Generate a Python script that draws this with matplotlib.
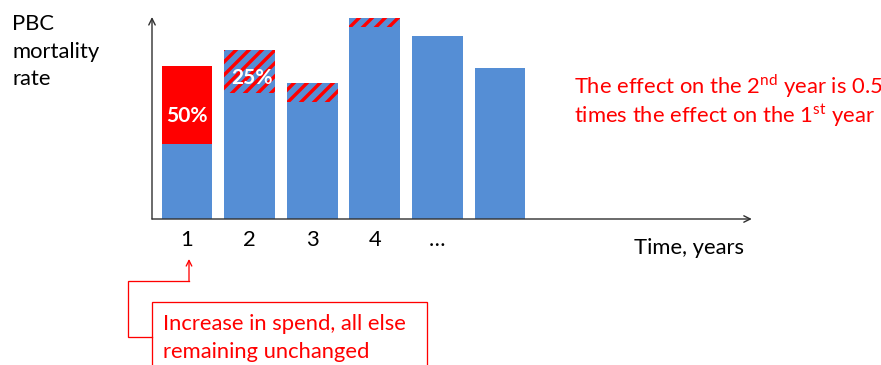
import matplotlib
matplotlib.use("Agg")
import matplotlib.pyplot as plt
from matplotlib.patches import Rectangle

DPI = 78
PT = 72 / DPI  # pixels -> points

plt.rcParams['font.family'] = ['Lato', 'DejaVu Sans']
plt.rcParams['mathtext.fontset'] = 'custom'
plt.rcParams['mathtext.rm'] = 'Lato'
plt.rcParams['hatch.linewidth'] = 3.4 * PT

# Mortality rate per year (arbitrary units) and the spend effect stacked on top
years = ["1", "2", "3", "4", "…", ""]
base_rate = [75, 126, 117, 192, 183, 151]
spend_effect = [78, 43, 19, 9, 0, 0]
effect_labels = ["50%", "25%", "", "", "", ""]

BLUE = "#558ed5"
RED = "#ff0000"
FS = 22 * PT

W, H = 881, 365
fig = plt.figure(figsize=(W / DPI, H / DPI), dpi=DPI)

# full-figure overlay in pixel units for the callouts
ov = fig.add_axes([0, 0, 1, 1], zorder=0)
ov.set_xlim(0, W)
ov.set_ylim(H, 0)
ov.axis("off")

# chart axes
x0, x1, yb, yt = 152, 750, 219, 17
ax = fig.add_axes([x0 / W, (H - yb) / H, (x1 - x0) / W, (yb - yt) / H], zorder=1)
ax.patch.set_alpha(0)
pitch = 62.6
ax.set_xlim((x0 - 187) / pitch, (x1 - 187) / pitch)
ax.set_ylim(0, yb - yt)
for s in ax.spines.values():
    s.set_visible(False)
ax.set_xticks([])
ax.set_yticks([])

xs = list(range(len(years)))
bw = 0.81
ax.bar(xs, base_rate, width=bw, color=BLUE, linewidth=0)
for i, (b, e) in enumerate(zip(base_rate, spend_effect)):
    if e <= 0:
        continue
    if i == 0:
        ax.bar(i, e, bottom=b, width=bw, color=RED, linewidth=0)
    else:
        ax.bar(i, e, bottom=b, width=bw, facecolor=BLUE, edgecolor=RED,
               hatch="//", linewidth=0)
    if effect_labels[i]:
        ax.text(i + (0.04 if i else 0), b + e * 0.36, effect_labels[i],
                color="white", fontsize=21 * PT, fontweight="bold",
                ha="center", va="center")

# axis arrows
arrow_kw = dict(arrowstyle="->", color="#303030", lw=1.4 * PT,
                mutation_scale=16 * PT, shrinkA=0, shrinkB=0)
ax.annotate("", xy=(0, 1), xytext=(0, 0), xycoords="axes fraction",
            arrowprops=arrow_kw, annotation_clip=False)
ax.annotate("", xy=(1.003, 0), xytext=(0, 0), xycoords="axes fraction",
            arrowprops=arrow_kw, annotation_clip=False)

# category labels under the axis
for i, lab in enumerate(years):
    ax.text(i, -21, lab, fontsize=FS, ha="center", va="center", color="black")

ov.text(634, 248, "Time, years", fontsize=FS, ha="left", va="center", color="black")
for y, line in zip([30, 57.5, 85], ["PBC", "mortality", "rate"]):
    ov.text(12, y, line, fontsize=FS, ha="left", va="baseline", color="black")

ov.text(574, 94, r"The effect on the 2$^{\mathrm{nd}}$ year is 0.5", fontsize=FS,
        ha="left", va="baseline", color=RED)
ov.text(574, 123, r"times the effect on the 1$^{\mathrm{st}}$ year", fontsize=FS,
        ha="left", va="baseline", color=RED)

# callout box and elbow connector
ov.add_patch(Rectangle((152, 302), 275, 80, facecolor="white", edgecolor=RED,
                       lw=1.3 * PT, clip_on=True))
ov.plot([152, 127.5, 127.5, 189], [337, 337, 281, 281], color=RED, lw=1.3 * PT,
        solid_joinstyle="miter")
ov.annotate("", xy=(189, 259), xytext=(189, 281.5), xycoords="data",
            arrowprops=dict(arrowstyle="->", color=RED, lw=1.3 * PT,
                            mutation_scale=14 * PT, shrinkA=0, shrinkB=0))
ov.text(163, 330, "Increase in spend, all else", fontsize=FS, ha="left",
        va="baseline", color=RED)
ov.text(163, 358, "remaining unchanged", fontsize=FS, ha="left",
        va="baseline", color=RED)

ov.text(843, 371, "30", fontsize=14 * PT, ha="center", va="center", color="#a0a0a0")

fig.savefig("out.png", dpi=DPI)
